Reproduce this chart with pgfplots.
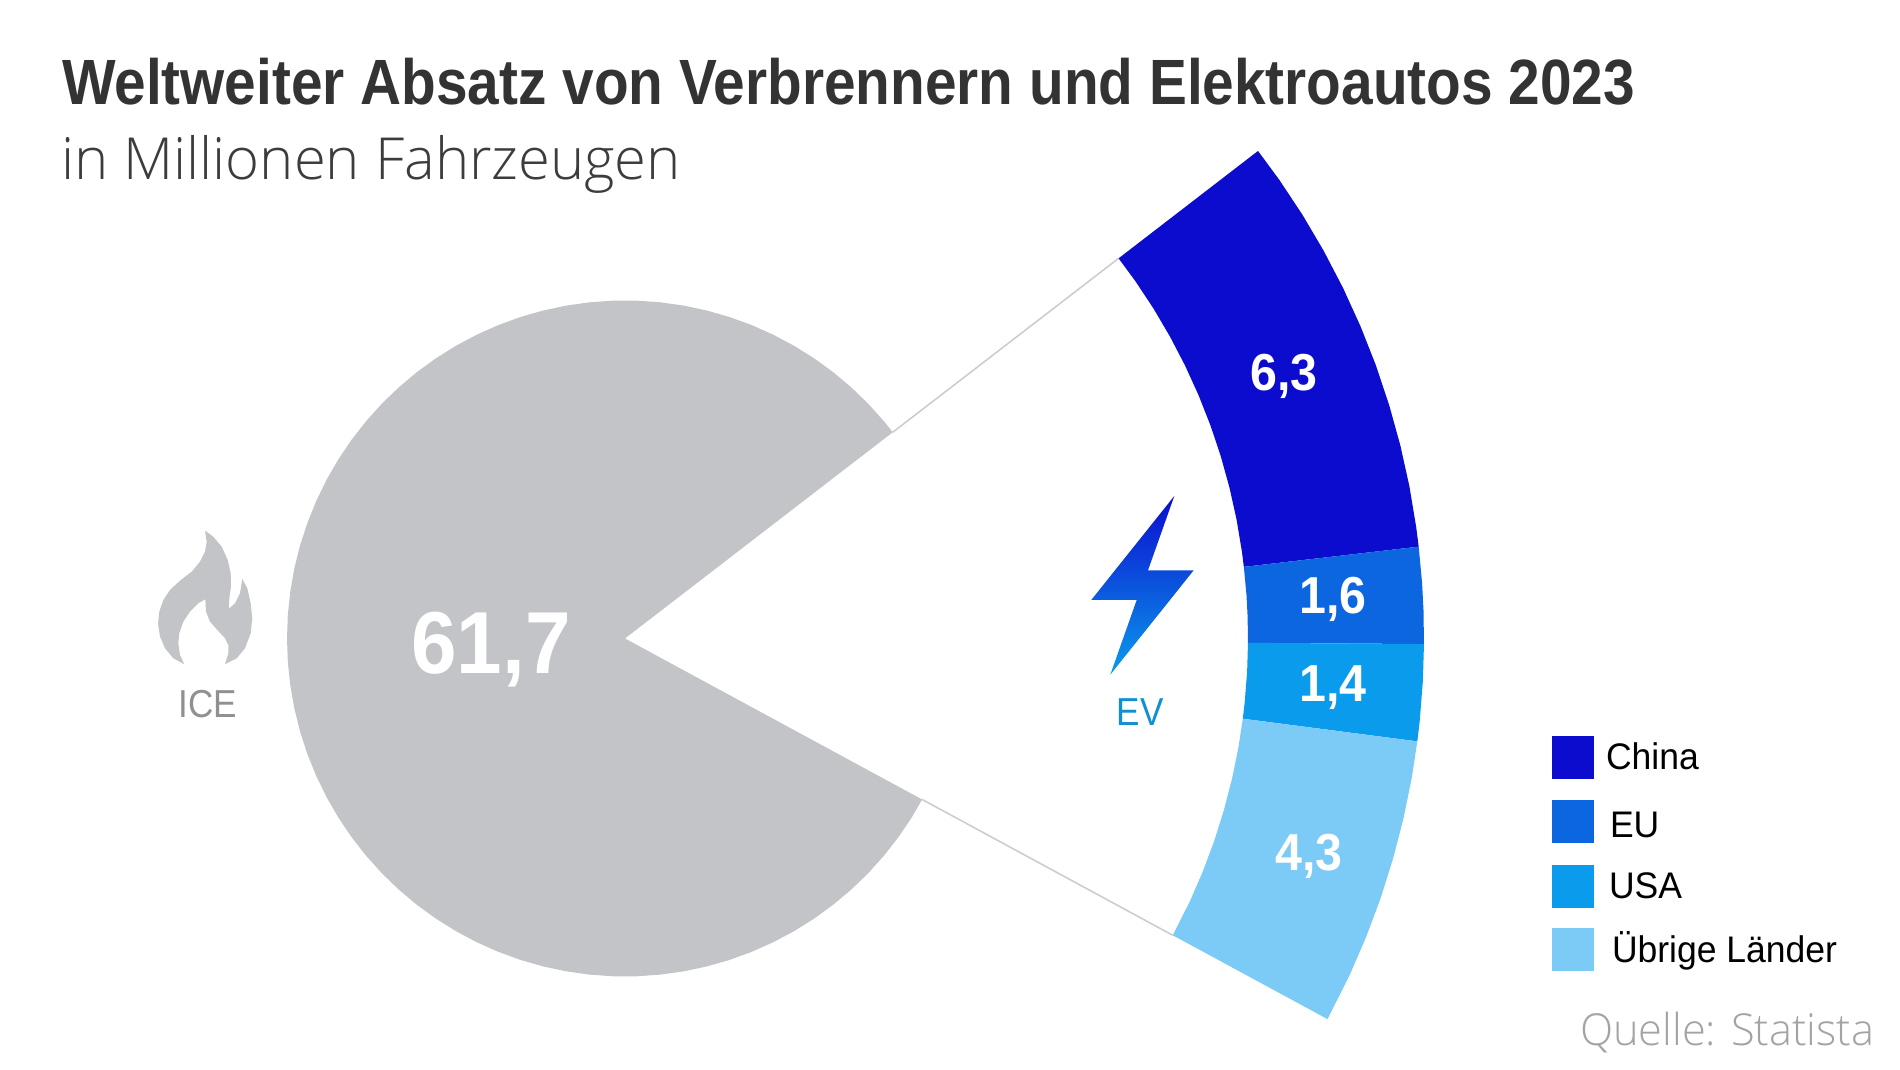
\documentclass[border=0pt]{standalone}
\usepackage{pgfplots}
\pgfplotsset{compat=1.18}
\usepackage{fontspec}
\setmainfont{Liberation Sans}
\newfontfamily\lightfont[FakeStretch=0.985]{Open Sans Light}
\newfontfamily\subfont{Open Sans Light}
\newfontfamily\titlefont[FakeStretch=0.887]{Liberation Sans Bold}
\newfontfamily\numfont[FakeStretch=0.93]{Liberation Sans Bold}
\newfontfamily\legfont[FakeStretch=0.96]{Liberation Sans}
\newfontfamily\labfont[FakeStretch=0.9]{Liberation Sans}
\definecolor{cChina}{HTML}{0C0CCF}
\definecolor{cEU}{HTML}{0C66E0}
\definecolor{cUSA}{HTML}{0A9BEC}
\definecolor{cRest}{HTML}{7CCBF7}
\definecolor{cICE}{HTML}{C3C4C8}
\definecolor{cTitle}{HTML}{333333}
\definecolor{cSub}{HTML}{3C3C3C}
\definecolor{cSrc}{HTML}{A3A3A3}
\definecolor{cIceT}{HTML}{909094}
\definecolor{cEvT}{HTML}{1090D0}
\definecolor{cLine}{HTML}{CDCDCD}
\pgfplotsset{px/.style={x filter/.expression={x-625}, y filter/.expression={638.5-y}}}
\newcommand{\txt}[4]{\node[anchor=#1,inner sep=0pt,outer sep=0pt] at (#2pt,{1069pt-#3pt}) {#4};}
\begin{document}
\begin{tikzpicture}
\path[use as bounding box] (0,0) rectangle (1900pt,1069pt);
\begin{axis}[at={(0,0)},anchor=south west,hide axis,scale only axis,width=1900pt,height=1069pt,
  xmin=-625,xmax=1275,ymin=-430.5,ymax=638.5,clip=false]
% ICE
\addplot[draw=none,fill=cICE,data cs=polar] coordinates {
(0,0)(37.6,338)(40,338)(44,338)(48,338)(52,338)(56,338)(60,338)(64,338)(68,338)(72,338)(76,338)(80,338)(84,338)(88,338)(92,338)(96,338)(100,338)(104,338)(108,338)(112,338)(116,338)(120,338)(124,338)(128,338)(132,338)(136,338)(140,338)(144,338)(148,338)(152,338)(156,338)(160,338)(164,338)(168,338)(172,338)(176,338)(180,338)(184,338)(188,338)(192,338)(196,338)(200,338)(204,338)(208,338)(212,338)(216,338)(220,338)(224,338)(228,338)(232,338)(236,338)(240,338)(244,338)(248,338)(252,338)(256,338)(260,338)(264,338)(268,338)(272,338)(276,338)(280,338)(284,338)(288,338)(292,338)(296,338)(300,338)(304,338)(308,338)(312,338)(316,338)(320,338)(324,338)(328,338)(331.55,338)} --cycle;
% connector lines
\addplot[cLine,line width=1.6pt,data cs=polar] coordinates {(37.6,338)(37.6,623)};
\addplot[cLine,line width=1.6pt,data cs=polar] coordinates {(331.55,338)(331.55,623)};
% EV slices
\addplot[draw=none,fill=cChina,data cs=polar] coordinates {
(37.6,799)(35,799)(32,799)(29,799)(26,799)(23,799)(20,799)(17,799)(14,799)(11,799)(8,799)(6.6,799)
(6.6,623)(8,623)(11,623)(14,623)(17,623)(20,623)(23,623)(26,623)(29,623)(32,623)(35,623)(37.6,623)} --cycle;
\addplot[draw=none,fill=cEU,data cs=polar] coordinates {
(6.6,799)(4,799)(2,799)(-0.4,799)(-0.4,623)(2,623)(4,623)(6.6,623)} --cycle;
\addplot[draw=none,fill=cUSA,data cs=polar] coordinates {
(-0.4,799)(-3,799)(-6,799)(-7.4,799)(-7.4,623)(-6,623)(-3,623)(-0.4,623)} --cycle;
\addplot[draw=none,fill=cRest,data cs=polar] coordinates {
(-7.4,799)(-10,799)(-13,799)(-16,799)(-19,799)(-22,799)(-25,799)(-28.45,799)
(-28.45,623)(-25,623)(-22,623)(-19,623)(-16,623)(-13,623)(-10,623)(-7.4,623)} --cycle;
% legend squares
\addplot[draw=none,fill=cChina,px] coordinates {(1552,736)(1594,736)(1594,779)(1552,779)} --cycle;
\addplot[draw=none,fill=cEU,px] coordinates {(1552,800)(1594,800)(1594,843)(1552,843)} --cycle;
\addplot[draw=none,fill=cUSA,px] coordinates {(1552,865)(1594,865)(1594,908.5)(1552,908.5)} --cycle;
\addplot[draw=none,fill=cRest,px] coordinates {(1552,928)(1594,928)(1594,971)(1552,971)} --cycle;
% bolt icon
\addplot[draw=none,top color=cChina,bottom color=cUSA,px] coordinates {
(1174.3,496)(1148,570.3)(1193.7,570.3)(1110.3,674.7)(1136.7,600)(1091.3,600)} --cycle;
% flame icon
\addplot[draw=none,fill=cICE,px] coordinates {
(205,530.7)(213.3,536.7)(221.7,546.7)(227.7,560)(230.7,573.3)(231,586.7)(229.3,598.3)(229,608.7)(235,603.3)(240,593.3)(242.3,579)(247.3,588.3)(250.7,603.3)(252.3,618.3)(250.7,633.3)(245,648.3)(236.7,658.3)(225,664.3)(228.3,653.3)(228.3,645)(225,638.3)(217.3,630)(210,621.7)(206,611.7)(205.3,599.3)(198.3,603.3)(190,611.7)(183.3,621.7)(179.3,633.3)(178.3,643.3)(180,655)(184.3,664.3)(173.3,658.3)(165,648.3)(160,636.7)(158,623.3)(159.3,611.7)(163.3,600)(170,590)(180,580.7)(191.7,571.7)(200,561.7)(205,551.7)(206.7,541.7)} --cycle;
\end{axis}
\txt{base west}{62}{105}{\fontsize{64}{64}\selectfont\titlefont\color{cTitle}Weltweiter Absatz von Verbrennern und Elektroautos 2023}
\txt{base west}{61}{180}{\fontsize{58}{58}\selectfont\subfont\color{cSub}in Millionen Fahrzeugen}
\txt{center}{491}{650}{\fontsize{88}{88}\selectfont\numfont\color{white}61,7}
\txt{center}{1284}{376}{\fontsize{52}{52}\selectfont\numfont\color{white}6,3}
\txt{center}{1333}{599}{\fontsize{52}{52}\selectfont\numfont\color{white}1,6}
\txt{center}{1333}{688}{\fontsize{52}{52}\selectfont\numfont\color{white}1,4}
\txt{center}{1309}{856}{\fontsize{52}{52}\selectfont\numfont\color{white}4,3}
\txt{center}{208}{704}{\fontsize{39}{39}\selectfont\labfont\color{cIceT}ICE}
\txt{center}{1140}{712}{\fontsize{39}{39}\selectfont\labfont\color{cEvT}EV}
\txt{base west}{1606}{769}{\fontsize{37}{37}\selectfont\legfont China}
\txt{base west}{1610}{837}{\fontsize{37}{37}\selectfont\legfont EU}
\txt{base west}{1609}{898}{\fontsize{37}{37}\selectfont\legfont USA}
\txt{base west}{1612}{962}{\fontsize{37}{37}\selectfont\legfont Übrige Länder}
\txt{base west}{1580}{1045}{\fontsize{44}{44}\selectfont\lightfont\color{cSrc}Quelle: Statista}
\end{tikzpicture}
\end{document}
